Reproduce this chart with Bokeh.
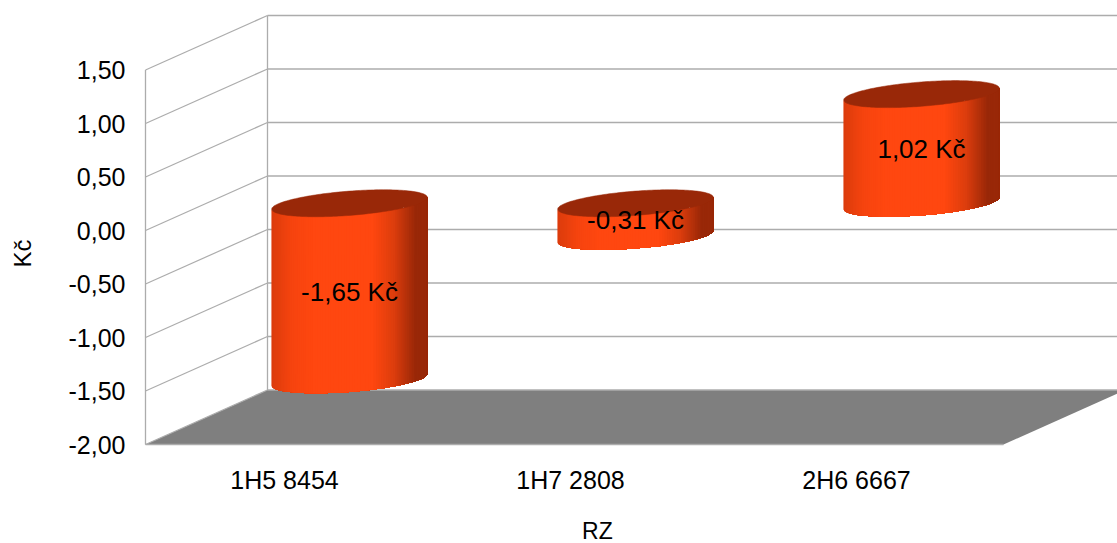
import numpy as np
from bokeh.embed import file_html
from bokeh.resources import INLINE
from bokeh.plotting import figure
from bokeh.models import FixedTicker, Range1d
from bokeh.core.properties import value

# ---- chart data ----
categories = ["1H5 8454", "1H7 2808", "2H6 6667"]
values = [-1.65, -0.31, 1.02]
y_ticks = [-2.0, -1.5, -1.0, -0.5, 0.0, 0.5, 1.0, 1.5]
y_title = "Kč"
x_title = "RZ"

# ---- layout / style ----
FONT = "Liberation Sans"
GRID = "#acacac"
FLOOR = "#7f7f7f"
TOP = "#992808"
PX_X = 286.0      # pixels per category
PX_Y = 107.0      # pixels per unit of value
DX = 122.0 / PX_X # depth offset of the back wall, x data units
DY = 54.5 / PX_Y  # depth offset of the back wall, y data units
W, H = 1117, 543
LEFT, BOTTOM = 145, 99

p = figure(width=W, height=H, output_backend="svg", toolbar_location=None,
           x_range=Range1d(-LEFT / PX_X, (W - LEFT) / PX_X),
           y_range=Range1d(-2 - BOTTOM / PX_Y, -2 + (H - BOTTOM) / PX_Y),
           min_border_left=0, min_border_right=0, min_border_top=0, min_border_bottom=0,
           outline_line_color=None, background_fill_color="white", border_fill_color="white")
p.grid.visible = False

n = len(categories)
ymin, ymax = y_ticks[0], y_ticks[-1]

# floor
p.patch([0, DX, n + DX, n], [ymin, ymin + DY, ymin + DY, ymin], fill_color=FLOOR, line_color=None)

# side wall & back wall gridlines
xmax = (W - LEFT) / PX_X
p.segment([0] * len(y_ticks), y_ticks, [DX] * len(y_ticks), [t + DY for t in y_ticks],
          line_color=GRID, line_width=1.2)
p.segment([DX] * len(y_ticks), [t + DY for t in y_ticks], [xmax] * len(y_ticks), [t + DY for t in y_ticks],
          line_color=GRID, line_width=1.3)
p.segment([0, DX, 0], [ymin, ymin + DY, ymin], [0, DX, n], [ymax, ymax + DY, ymin],
          line_color=GRID, line_width=1.3)

# cylinders
AX = 70.0 / PX_X
BX, BY = 34.0 / PX_X, 13.5 / PX_Y
theta_l = np.pi + np.arctan2(BX, AX)
theta_r = np.arctan2(BX, AX)
half_w = np.hypot(AX, BX)


def ring(cx, cy, th):
    return cx + AX * np.cos(th) + BX * np.sin(th), cy + BY * np.sin(th)


def shade(t):
    stops_t = [0, .12, .25, .64, .78, .92, 1]
    r = np.interp(t, stops_t, [0xdc, 0xf6, 0xff, 0xff, 0xdc, 0x99, 0x99])
    g = np.interp(t, stops_t, [0x3d, 0x44, 0x47, 0x47, 0x3d, 0x28, 0x28])
    b = np.interp(t, stops_t, [0x0d, 0x0f, 0x10, 0x10, 0x0d, 0x08, 0x08])
    return "#%02x%02x%02x" % (int(r), int(g), int(b))


for i, v in enumerate(values):
    cx = i + 0.5 + DX / 2
    y_hi, y_lo = max(v, 0) + DY / 2, min(v, 0) + DY / 2
    # front arc, left to right; each band runs to the right end so no seams show
    th = np.linspace(theta_l, theta_r + 2 * np.pi, 91)
    xs_t, ys_t = ring(cx, y_hi, th)
    xs_b, ys_b = ring(cx, y_lo, th)
    xs_list, ys_list, cols = [], [], []
    for k in range(len(th) - 1):
        xs_list.append(np.concatenate([xs_t[k:], xs_b[k:][::-1]]))
        ys_list.append(np.concatenate([ys_t[k:], ys_b[k:][::-1]]))
        cols.append(shade((xs_t[k] - (cx - half_w)) / (2 * half_w)))
    p.patches(xs_list, ys_list, fill_color=cols, line_color=None)
    full = np.linspace(0, 2 * np.pi, 181)
    ex, ey = ring(cx, y_hi, full)
    p.patch(ex, ey, fill_color=TOP, line_color=TOP, line_width=0.5)
    p.text([cx], [(y_hi + y_lo) / 2], text=[f"{v:.2f} Kč".replace(".", ",")],
           text_font=value(FONT), text_font_size="26px", text_color="black",
           text_align="center", text_baseline="middle")

# axes
ya = p.yaxis[0]
ya.fixed_location = 0
ya.ticker = FixedTicker(ticks=y_ticks)
ya.major_label_overrides = {t: f"{t:.2f}".replace(".", ",") for t in y_ticks}
ya.axis_line_color = None
ya.major_tick_line_color = None
ya.minor_tick_line_color = None
ya.major_tick_out = 0
ya.major_label_standoff = 20
ya.major_label_text_font = FONT
ya.major_label_text_font_size = "25px"
ya.major_label_text_color = "black"

xa = p.xaxis[0]
xa.fixed_location = -2
x_ticks = [i + 0.486 for i in range(n)]
xa.ticker = FixedTicker(ticks=x_ticks)
xa.major_label_overrides = dict(zip(x_ticks, categories))
xa.axis_line_color = None
xa.major_tick_line_color = None
xa.minor_tick_line_color = None
xa.major_tick_out = 0
xa.major_label_standoff = 21
xa.major_label_text_font = FONT
xa.major_label_text_font_size = "25px"
xa.major_label_text_color = "black"

p.text([-0.43], [-0.215], text=[y_title], angle=np.pi / 2,
       text_font=value(FONT), text_font_size="24px", text_color="black",
       text_align="center", text_baseline="middle")
p.text([1.58], [-2.81], text=[x_title],
       text_font=value(FONT), text_font_size="23px", text_color="black",
       text_align="center", text_baseline="middle")

open("out.html", "w").write(file_html(p, INLINE))
